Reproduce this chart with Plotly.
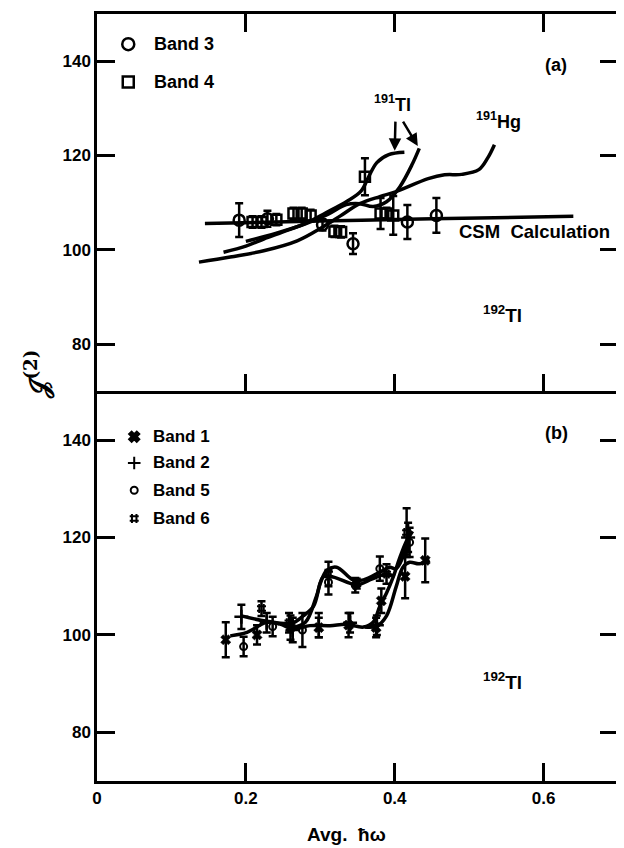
import plotly.graph_objects as go
from plotly.subplots import make_subplots

# ---------------- Panel (a) data ----------------
b3_x = [0.191, 0.229, 0.303, 0.344, 0.417, 0.456]
b3_y = [106.3, 106.6, 105.3, 101.3, 105.9, 107.3]
b3_e = [3.6, 1.7, 1.2, 2.2, 3.6, 3.7]

b4_x = [0.209, 0.221, 0.241, 0.264, 0.275, 0.287, 0.319, 0.328, 0.360, 0.381, 0.389, 0.398]
b4_y = [105.9, 105.9, 106.4, 107.7, 107.7, 107.3, 103.9, 103.8, 115.5, 107.7, 107.7, 107.3]
b4_e = [1.2, 1.2, 1.2, 1.2, 1.2, 1.2, 1.2, 1.2, 3.9, 3.3, 1.2, 4.1]

csm_x = [0.145, 0.30, 0.45, 0.64]
csm_y = [105.6, 106.1, 106.6, 107.1]

hg_x = [0.137, 0.179, 0.224, 0.269, 0.304, 0.327, 0.353, 0.380, 0.401, 0.445, 0.467, 0.490, 0.513, 0.525, 0.534]
hg_y = [97.4, 98.5, 99.8, 101.9, 104.9, 107.2, 109.8, 111.3, 112.3, 115.1, 115.9, 116.0, 117.0, 119.5, 122.3]

tla_x = [0.170, 0.200, 0.224, 0.250, 0.280, 0.307, 0.336, 0.355, 0.365, 0.376, 0.392, 0.413]
tla_y = [99.5, 100.8, 102.3, 103.8, 105.6, 107.8, 110.3, 112.5, 115.5, 118.5, 120.2, 120.7]

tlb_x = [0.200, 0.240, 0.280, 0.310, 0.335, 0.353, 0.371, 0.389, 0.407, 0.424, 0.433]
tlb_y = [101.8, 103.5, 105.5, 107.5, 109.6, 109.8, 109.2, 110.2, 113.4, 118.3, 121.5]

# ---------------- Panel (b) data ----------------
b1_x = [0.173, 0.215, 0.260, 0.298, 0.338, 0.375, 0.382, 0.414, 0.441]
b1_y = [99.0, 100.0, 101.5, 101.5, 102.0, 101.5, 107.0, 112.0, 115.3]
b1_e = [3.6, 2.0, 2.5, 2.0, 2.5, 2.0, 2.5, 4.5, 4.5]

b2_x = [0.194, 0.228, 0.263, 0.298, 0.340, 0.376, 0.418]
b2_y = [103.7, 102.5, 101.0, 102.0, 102.5, 102.0, 120.0]
b2_e = [2.5, 2.0, 2.5, 2.5, 2.0, 2.0, 3.0]

b5_x = [0.197, 0.236, 0.276, 0.311, 0.347, 0.380, 0.420]
b5_y = [97.6, 101.7, 101.0, 110.8, 110.2, 113.6, 119.0]
b5_e = [2.0, 2.0, 3.5, 2.5, 1.5, 2.5, 3.0]

b6_x = [0.221, 0.258, 0.311, 0.349, 0.389, 0.416]
b6_y = [105.4, 102.5, 112.5, 110.5, 112.5, 121.0]
b6_e = [1.5, 2.0, 2.5, 1.0, 2.0, 5.0]

low1_x = [0.179, 0.2016, 0.228, 0.246, 0.264, 0.286, 0.313, 0.335, 0.358, 0.371, 0.380, 0.389, 0.398, 0.407, 0.416, 0.424]
low1_y = [99.8, 100.5, 102.6, 102.2, 101.2, 101.9, 101.9, 102.2, 101.6, 102.6, 105.9, 108.6, 111.9, 115.9, 119.3, 121.3]

low2_x = [0.360, 0.376, 0.389, 0.402, 0.411, 0.420, 0.433, 0.447]
low2_y = [101.6, 101.8, 103.9, 109.9, 113.9, 114.9, 114.6, 115.3]

up1_x = [0.194, 0.228, 0.262, 0.277, 0.291, 0.300, 0.309, 0.322, 0.344, 0.358, 0.380, 0.393, 0.402, 0.411, 0.420]
up1_y = [103.9, 102.8, 102.4, 103.9, 105.9, 110.6, 113.3, 113.9, 111.3, 111.3, 112.9, 113.9, 113.6, 116.0, 120.5]

up2_x = [0.262, 0.280, 0.295, 0.304, 0.317, 0.349, 0.370, 0.389, 0.400]
up2_y = [101.5, 102.6, 108.0, 111.9, 111.9, 110.3, 111.5, 112.5, 112.0]

x_ticks = [0, 0.2, 0.4, 0.6]
x_ticklabels = ["0", "0.2", "0.4", "0.6"]
y_ticks = [80, 100, 120, 140]

FONT = "Liberation Sans, Arial, sans-serif"
BLK = "black"

fig = make_subplots(rows=2, cols=1, shared_xaxes=True, vertical_spacing=0,
                    row_heights=[0.492, 0.508])


def curve(x, y, row):
    fig.add_trace(go.Scatter(x=x, y=y, mode="lines",
                             line=dict(color=BLK, width=3.5, shape="spline", smoothing=1.0),
                             showlegend=False, hoverinfo="skip"), row=row, col=1)


def points(x, y, e, symbol, size, row, lw=2.5):
    fig.add_trace(go.Scatter(x=x, y=y, mode="markers",
                             marker=dict(symbol=symbol, size=size, color=BLK,
                                         line=dict(color=BLK, width=lw)),
                             error_y=dict(type="data", array=e, visible=True,
                                          color=BLK, thickness=2.5, width=4),
                             showlegend=False), row=row, col=1)


# panel (a)
curve(csm_x, csm_y, 1)
curve(hg_x, hg_y, 1)
curve(tla_x, tla_y, 1)
curve(tlb_x, tlb_y, 1)
points(b3_x, b3_y, b3_e, "circle-open", 11, 1)
points(b4_x, b4_y, b4_e, "square-open", 10, 1)

# legend markers panel (a)
fig.add_trace(go.Scatter(x=[0.042], y=[143.6], mode="markers",
                         marker=dict(symbol="circle-open", size=12, color=BLK, line=dict(width=2.5)),
                         showlegend=False), row=1, col=1)
fig.add_trace(go.Scatter(x=[0.042], y=[135.6], mode="markers",
                         marker=dict(symbol="square-open", size=11, color=BLK, line=dict(width=2.5)),
                         showlegend=False), row=1, col=1)

# panel (b)
curve(low1_x, low1_y, 2)
curve(low2_x, low2_y, 2)
curve(up1_x, up1_y, 2)
curve(up2_x, up2_y, 2)
points(b1_x, b1_y, b1_e, "x", 9, 2, lw=0.5)
points(b2_x, b2_y, b2_e, "cross-thin", 10, 2, lw=2.5)
points(b5_x, b5_y, b5_e, "circle-open", 7, 2, lw=2)
points(b6_x, b6_y, b6_e, "hash", 9, 2, lw=2)

leg_b_y = [140.7, 135.3, 129.7, 123.9]
leg_b_sym = ["x", "cross-thin", "circle-open", "hash"]
leg_b_size = [9, 9, 7, 9]
for yy, sym, sz in zip(leg_b_y, leg_b_sym, leg_b_size):
    fig.add_trace(go.Scatter(x=[0.05], y=[yy], mode="markers",
                             marker=dict(symbol=sym, size=sz, color=BLK,
                                         line=dict(color=BLK, width=2)),
                             showlegend=False), row=2, col=1)

axis_common = dict(showline=True, linecolor=BLK, linewidth=2.5, mirror="ticks",
                   ticks="inside", ticklen=18, tickwidth=2.5, tickcolor=BLK,
                   showgrid=False, zeroline=False,
                   tickfont=dict(family=FONT, size=17, color=BLK, weight="bold"))

fig.update_xaxes(range=[0, 0.70], tickvals=x_ticks, ticktext=x_ticklabels, **axis_common)
fig.update_xaxes(showticklabels=False, row=1, col=1)
# the shared divider line is drawn once (by panel a), so panel b is not mirrored on top
fig.update_xaxes(mirror=False, row=2, col=1)
fig.update_yaxes(range=[70, 150], tickvals=y_ticks, **axis_common)

ann = []


def text(x, y, s, xref, yref, size=16, xanchor="center", yanchor="middle"):
    ann.append(dict(x=x, y=y, xref=xref, yref=yref, text=s, showarrow=False,
                    xanchor=xanchor, yanchor=yanchor,
                    font=dict(family=FONT, size=size, color=BLK, weight="bold")))


# panel (a) texts
text(0.074, 143.6, "Band 3", "x", "y", size=18, xanchor="left")
text(0.074, 135.6, "Band 4", "x", "y", size=18, xanchor="left")
text(0.617, 139.2, "(a)", "x", "y", size=18)
text(0.484, 103.9, "CSM  Calculation", "x", "y", size=18.5, xanchor="left")
text(0.545, 86.5, "<sup>192</sup>Tl", "x", "y", size=19)
text(0.397, 131.0, "<sup>191</sup>Tl", "x", "y", size=18)
text(0.54, 127.5, "<sup>191</sup>Hg", "x", "y", size=18)

# arrows 191Tl
ann.append(dict(x=0.400, y=121.0, ax=0.401, ay=127.5, xref="x", yref="y",
                axref="x", ayref="y", showarrow=True, arrowhead=2, arrowsize=1,
                arrowwidth=2.5, arrowcolor=BLK, text=""))
ann.append(dict(x=0.431, y=122.0, ax=0.410, ay=127.5, xref="x", yref="y",
                axref="x", ayref="y", showarrow=True, arrowhead=2, arrowsize=1,
                arrowwidth=2.5, arrowcolor=BLK, text=""))

# panel (b) texts
for yy, lab in zip(leg_b_y, ["Band 1", "Band 2", "Band 5", "Band 6"]):
    text(0.073, yy, lab, "x2", "y2", size=17, xanchor="left")
text(0.617, 141.4, "(b)", "x2", "y2", size=18)
text(0.545, 90.5, "<sup>192</sup>Tl", "x2", "y2", size=19)

# axis titles
ann.append(dict(x=0.335, y=-0.07, xref="x2", yref="paper", text="Avg.  ħω",
                showarrow=False, xanchor="center", yanchor="middle",
                font=dict(family=FONT, size=19, color=BLK, weight="bold")))
ann.append(dict(x=-0.115, y=0.53, xref="paper", yref="paper",
                text="𝒥<sup>(2)</sup>", textangle=-90, showarrow=False,
                xanchor="center", yanchor="middle",
                font=dict(family="DejaVu Serif, serif", size=26, color=BLK, weight="bold")))

# the page body has an 8px margin, so the figure is shrunk by 8px to fit the window
fig.update_layout(width=616, height=840, margin=dict(l=89, r=4, t=3, b=67),
                  paper_bgcolor="white", plot_bgcolor="white",
                  showlegend=False, annotations=ann)

fig.write_html("out.html")
